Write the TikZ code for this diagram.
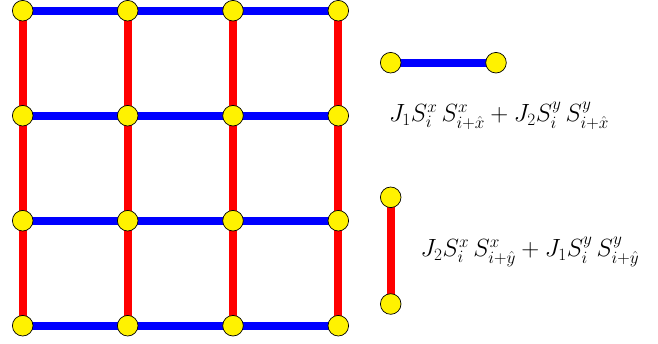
\documentclass[tikz,border=0pt]{standalone}
\usepackage{amsmath}
\begin{document}
\begin{tikzpicture}[x=1pt,y=-1pt,
  site/.style={circle,draw=black,fill=yellow,minimum size=20.6pt,inner sep=0pt,line width=0.7pt},
  hbond/.style={blue,line width=8pt},
  vbond/.style={red,line width=8pt},
  lbl/.style={font=\fontsize{23.5}{28}\selectfont,inner sep=0pt}]
\useasboundingbox (0,0) rectangle (658,343);
\foreach \i/\x in {0/22.7,1/127.7,2/233,3/338.3}{
  \foreach \j/\y in {0/10.7,1/115.7,2/220.7,3/325.7}{
    \coordinate (c\i\j) at (\x,\y);
  }
}
\foreach \j in {0,1,2,3}{
  \draw[hbond] (c0\j) -- (c1\j);
  \draw[hbond] (c1\j) -- (c2\j);
  \draw[hbond] (c2\j) -- (c3\j);
}
\foreach \i in {0,1,2,3}{
  \draw[vbond] (c\i0) -- (c\i1);
  \draw[vbond] (c\i1) -- (c\i2);
  \draw[vbond] (c\i2) -- (c\i3);
}
\foreach \i in {0,1,2,3}{
  \foreach \j in {0,1,2,3}{
    \node[site] (n\i\j) at (c\i\j) {};
  }
}
\coordinate (ha) at (390.7,62.7);
\coordinate (hb) at (496,62.7);
\draw[hbond] (ha) -- (hb);
\node[site] (hA) at (ha) {};
\node[site] (hB) at (hb) {};
\node[lbl] (lx) at (499,116) {$J_1S_i^x\,S_{i+\hat{x}}^x+J_2S_i^y\,S_{i+\hat{x}}^y$};
\coordinate (va) at (390.7,197.3);
\coordinate (vb) at (390.7,304);
\draw[vbond] (va) -- (vb);
\node[site] (vA) at (va) {};
\node[site] (vB) at (vb) {};
\node[lbl] (ly) at (530,252) {$J_2S_i^x\,S_{i+\hat{y}}^x+J_1S_i^y\,S_{i+\hat{y}}^y$};
\end{tikzpicture}
\end{document}
